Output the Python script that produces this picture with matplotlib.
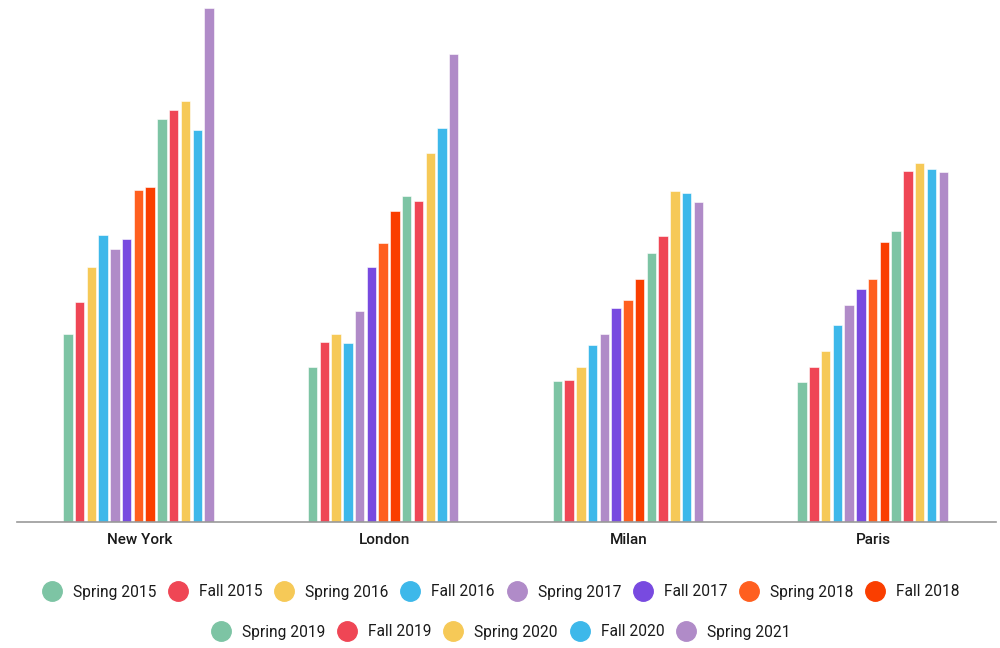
import matplotlib
matplotlib.use("Agg")
import matplotlib.pyplot as plt
import numpy as np
from matplotlib.lines import Line2D

plt.rcParams['font.family'] = ['Roboto', 'DejaVu Sans']

# Data
cities = ["New York", "London", "Milan", "Paris"]
seasons = ["Spring 2015", "Fall 2015", "Spring 2016", "Fall 2016", "Spring 2017",
           "Fall 2017", "Spring 2018", "Fall 2018", "Spring 2019", "Fall 2019",
           "Spring 2020", "Fall 2020", "Spring 2021"]
new_york = [188, 220, 255, 287, 273, 283, 332, 335, 403, 412, 421, 392, 514]
london = [155, 180, 188, 179, 211, 255, 279, 311, 326, 321, 369, 394, 468]
milan = [141, 142, 155, 177, 188, 214, 222, 243, 269, 286, 331, 329, 320]
paris = [140, 155, 171, 197, 217, 233, 243, 280, 291, 351, 359, 353, 350]

colors = ["#7DC4A4", "#EF4655", "#F6C957", "#3DB8EA", "#B08BC8", "#784AE0",
          "#FF5F1F", "#FA3E00", "#7DC4A4", "#EF4655", "#F6C957", "#3DB8EA", "#B08BC8"]

values = np.array([new_york, london, milan, paris])  # [city x season]

fig = plt.figure(figsize=(10, 6.48), dpi=100)
ax = fig.add_axes([0.017, 1 - 522 / 648, 0.979, (522 - 8) / 648])

n = len(seasons)
group = 0.625
slot = group / n
x = np.arange(len(cities))
for j in range(n):
    ax.bar(x - group / 2 - 0.004 + slot * (j + 0.5), values[:, j], width=slot * 0.8,
           color=colors[j], edgecolor="white", linewidth=0.4)

ax.set_xlim(-0.5, len(cities) - 0.5)
ax.set_ylim(0, 514)
ax.set_xticks(x)
ax.set_xticklabels(cities, fontsize=11, color="#1a1a1a", fontweight="medium")
ax.tick_params(axis="x", length=0, pad=8)
ax.set_yticks([])
for s in ["top", "right", "left"]:
    ax.spines[s].set_visible(False)
ax.spines["bottom"].set_color("#999999")
ax.spines["bottom"].set_linewidth(1.2)

# Legend in two centered rows
def handles_for(idx):
    return [Line2D([], [], marker="o", linestyle="none", markersize=14,
                   markerfacecolor=colors[i], markeredgecolor=colors[i]) for i in idx]

row1 = list(range(8))
row2 = list(range(8, 13))
common = dict(frameon=False, handlelength=1.0, handletextpad=0.85,
              columnspacing=0.9, labelcolor="#1a1a1a", loc="center",
              prop={"size": 11.2})
leg1 = fig.legend(handles_for(row1), [seasons[i] for i in row1], ncol=8,
                  bbox_to_anchor=(0.502, 1 - 592 / 648), **common)
leg2 = fig.legend(handles_for(row2), [seasons[i] for i in row2], ncol=5,
                  bbox_to_anchor=(0.502, 1 - 632 / 648), **common)

fig.savefig("out.png", dpi=100)
